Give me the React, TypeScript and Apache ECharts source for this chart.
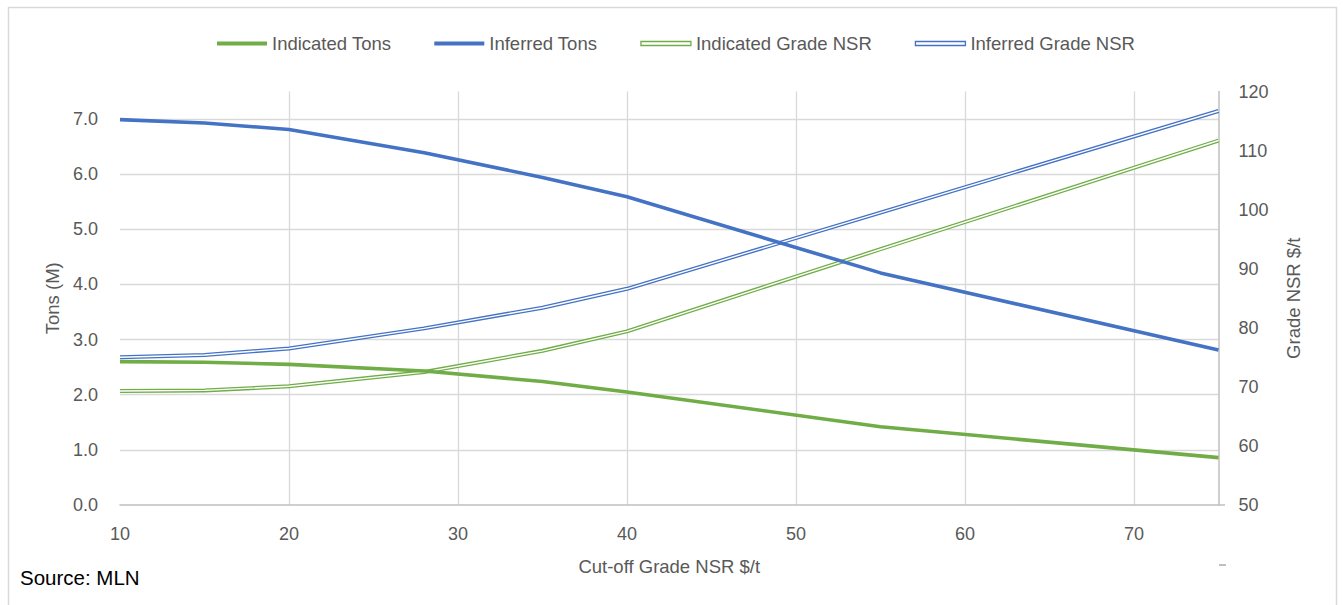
import React, { useEffect, useRef } from "react";
import * as echarts from "echarts";

// Cut-off grade sensitivity: tonnage (M) and NSR grade ($/t) by cut-off
const cutoffs = [10, 15, 20, 28, 35, 40, 55, 75];
const indicatedTons = [2.6, 2.59, 2.55, 2.43, 2.24, 2.05, 1.42, 0.86];
const inferredTons = [6.99, 6.93, 6.81, 6.39, 5.94, 5.59, 4.21, 2.81];
const indicatedGrade = [69.3, 69.4, 70.1, 72.5, 76.1, 79.4, 93.3, 111.7];
const inferredGrade = [75.0, 75.4, 76.5, 79.9, 83.4, 86.6, 99.5, 116.7];

const legendNames = ["Indicated Tons", "Inferred Tons", "Indicated Grade NSR", "Inferred Grade NSR"];

const GREEN = "#70AD47";
const BLUE = "#4472C4";
const GRID = "#d9d9d9";
const AXIS = "#bfbfbf";
const TEXT = "#595959";
const FONT = "'Liberation Sans', Arial, sans-serif";

const pairs = (ys: number[]) => cutoffs.map((x, i) => [x, ys[i]]);

export default function App() {
  const ref = useRef<HTMLDivElement>(null);

  useEffect(() => {
    if (!ref.current) return;
    const chart = echarts.init(ref.current, undefined, { renderer: "svg" });

    const tonsLine = (name: string, color: string, data: number[]) => ({
      name,
      type: "line",
      yAxisIndex: 0,
      data: pairs(data),
      color,
      symbol: "none",
      z: 5,
      lineStyle: { color, width: 3.6 },
    });

    // double (compound) line: coloured stroke with a thin white core
    const gradeLines = (name: string, color: string, data: number[]) => [
      {
        name,
        type: "line",
        yAxisIndex: 1,
        data: pairs(data),
        color,
        symbol: "none",
        z: 3,
        lineStyle: { color, width: 4 },
      },
      {
        name: name + " core",
        type: "line",
        yAxisIndex: 1,
        data: pairs(data),
        color: "#ffffff",
        symbol: "none",
        silent: true,
        z: 4,
        lineStyle: { color: "#ffffff", width: 1.4 },
      },
    ];

    chart.setOption({
      animation: false,
      backgroundColor: "#ffffff",
      textStyle: { fontFamily: FONT },
      grid: { left: 120, right: 124.5, top: 91.5, bottom: 100 },
      legend: {
        left: 217,
        top: 34,
        padding: 0,
        itemWidth: 50,
        itemHeight: 4,
        itemGap: 43,
        textStyle: { color: TEXT, fontSize: 18.5, fontFamily: FONT },
        data: [
          { name: legendNames[0], icon: "rect", itemStyle: { color: GREEN } },
          { name: legendNames[1], icon: "rect", itemStyle: { color: BLUE } },
          {
            name: legendNames[2],
            icon: "rect",
            itemStyle: { color: "#ffffff", borderColor: GREEN, borderWidth: 1.3 },
          },
          {
            name: legendNames[3],
            icon: "rect",
            itemStyle: { color: "#ffffff", borderColor: BLUE, borderWidth: 1.3 },
          },
        ],
      },
      xAxis: {
        type: "value",
        min: 10,
        max: 75,
        interval: 10,
        name: "Cut-off Grade NSR $/t",
        nameLocation: "middle",
        nameGap: 52,
        nameTextStyle: { color: TEXT, fontSize: 18.5, fontFamily: FONT },
        axisLine: { show: true, lineStyle: { color: AXIS, width: 1.5 } },
        axisTick: { show: false },
        axisLabel: {
          color: TEXT,
          fontSize: 18,
          margin: 20,
          formatter: (v: number) => (v === 75 ? "" : String(v)),
        },
        splitLine: {
          show: true,
          showMinLine: false,
          showMaxLine: false,
          lineStyle: { color: GRID, width: 1.3 },
        },
      },
      yAxis: [
        {
          type: "value",
          min: 0,
          max: 7.5,
          interval: 1,
          name: "Tons (M)",
          nameLocation: "middle",
          nameRotate: 90,
          nameGap: 54,
          nameTextStyle: { color: TEXT, fontSize: 18.5, fontFamily: FONT },
          axisLine: { show: false },
          axisTick: { show: false },
          axisLabel: {
            color: TEXT,
            fontSize: 18,
            margin: 22,
            formatter: (v: number) => (v > 7.01 ? "" : v.toFixed(1)),
          },
          splitLine: {
            show: true,
            showMinLine: false,
            showMaxLine: false,
            lineStyle: { color: GRID, width: 1.3 },
          },
        },
        {
          type: "value",
          position: "right",
          min: 50,
          max: 120,
          interval: 10,
          name: "Grade NSR $/t",
          nameLocation: "middle",
          nameRotate: 90,
          nameGap: 65,
          nameTextStyle: { color: TEXT, fontSize: 18.5, fontFamily: FONT },
          axisLine: { show: true, lineStyle: { color: AXIS, width: 1.5 } },
          axisTick: { show: false },
          axisLabel: { color: TEXT, fontSize: 18, margin: 20 },
          splitLine: { show: false },
        },
      ],
      series: [
        ...gradeLines(legendNames[2], GREEN, indicatedGrade),
        ...gradeLines(legendNames[3], BLUE, inferredGrade),
        tonsLine(legendNames[0], GREEN, indicatedTons),
        tonsLine(legendNames[1], BLUE, inferredTons),
      ],
      graphic: [
        {
          type: "rect",
          silent: true,
          shape: { x: 8.5, y: 7.5, width: 1328, height: 620 },
          style: { fill: "none", stroke: GRID, lineWidth: 1.5 },
        },
        {
          type: "line",
          silent: true,
          shape: { x1: 1219, y1: 505, x2: 1225, y2: 505 },
          style: { stroke: AXIS, lineWidth: 1.5 },
        },
        {
          type: "line",
          silent: true,
          shape: { x1: 1219, y1: 565, x2: 1226, y2: 565 },
          style: { stroke: AXIS, lineWidth: 2 },
        },
        {
          type: "text",
          left: 20,
          top: 567,
          style: {
            text: "Source: MLN",
            fill: "#000000",
            fontSize: 20.5,
            fontFamily: FONT,
          },
        },
      ],
    });

    return () => chart.dispose();
  }, []);

  return (
    <div
      ref={ref}
      style={{ position: "fixed", left: 0, top: 0, width: 1343, height: 605, background: "#fff" }}
    />
  );
}
